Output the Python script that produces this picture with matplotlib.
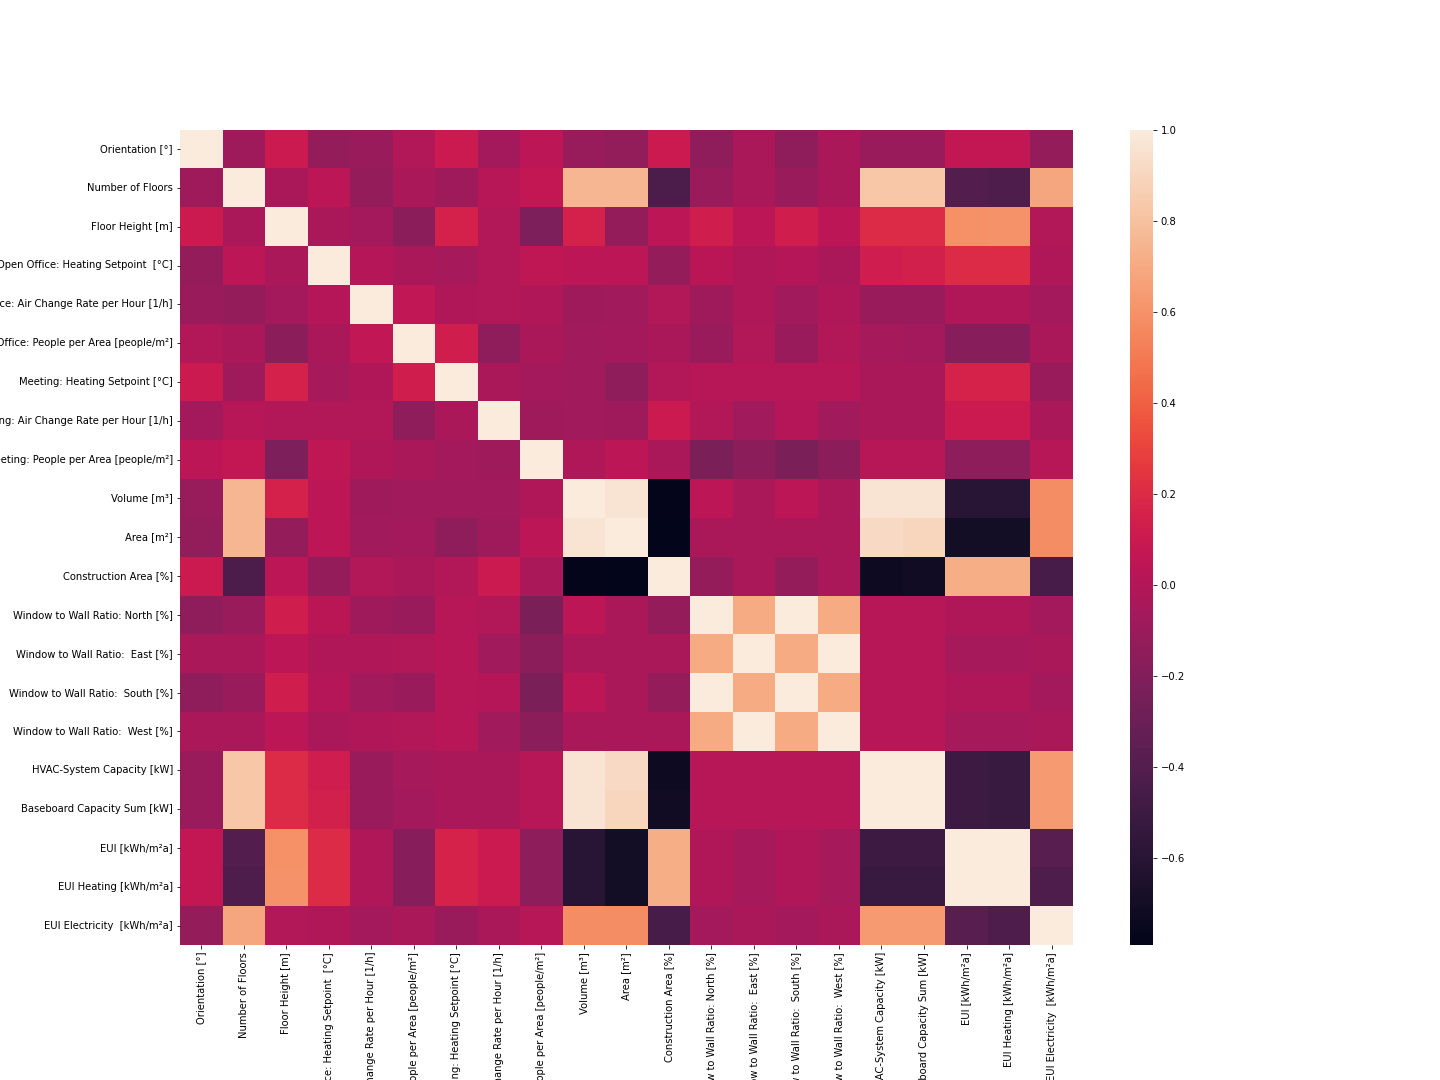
import numpy as np
import pandas as pd
import matplotlib
matplotlib.use("Agg")
import matplotlib.pyplot as plt
import seaborn as sns

labels = [
    "Orientation [°]",
    "Number of Floors",
    "Floor Height [m]",
    "Open Office: Heating Setpoint  [°C]",
    "Open Office: Air Change Rate per Hour [1/h]",
    "Open Office: People per Area [people/m²]",
    "Meeting: Heating Setpoint [°C]",
    "Meeting: Air Change Rate per Hour [1/h]",
    "Meeting: People per Area [people/m²]",
    "Volume [m³]",
    "Area [m²]",
    "Construction Area [%]",
    "Window to Wall Ratio: North [%]",
    "Window to Wall Ratio:  East [%]",
    "Window to Wall Ratio:  South [%]",
    "Window to Wall Ratio:  West [%]",
    "HVAC-System Capacity [kW]",
    "Baseboard Capacity Sum [kW]",
    "EUI [kWh/m²a]",
    "EUI Heating [kWh/m²a]",
    "EUI Electricity  [kWh/m²a]",
]

# correlation values
corr = [
    [1.00, -0.08, 0.10, -0.12, -0.10, 0.00, 0.10, -0.06, 0.04, -0.11, -0.13, 0.10, -0.14, -0.04, -0.14, -0.04, -0.10, -0.10, 0.07, 0.07, -0.12],
    [-0.08, 1.00, -0.03, 0.04, -0.12, -0.04, -0.08, 0.02, 0.07, 0.75, 0.75, -0.43, -0.10, -0.04, -0.10, -0.04, 0.83, 0.83, -0.40, -0.42, 0.68],
    [0.10, -0.03, 1.00, -0.03, -0.06, -0.16, 0.15, 0.00, -0.22, 0.15, -0.12, 0.04, 0.13, 0.04, 0.13, 0.04, 0.20, 0.20, 0.59, 0.60, 0.00],
    [-0.12, 0.04, -0.03, 1.00, 0.01, -0.04, -0.05, 0.00, 0.05, 0.04, 0.04, -0.12, 0.03, -0.02, 0.01, -0.03, 0.12, 0.14, 0.20, 0.20, -0.02],
    [-0.10, -0.12, -0.06, 0.01, 1.00, 0.06, -0.02, 0.00, -0.02, -0.08, -0.07, 0.00, -0.08, -0.02, -0.07, -0.02, -0.10, -0.10, -0.01, -0.01, -0.06],
    [0.00, -0.04, -0.16, -0.04, 0.06, 1.00, 0.13, -0.14, -0.04, -0.07, -0.06, -0.04, -0.10, 0.00, -0.10, 0.00, -0.05, -0.06, -0.18, -0.18, -0.04],
    [0.10, -0.08, 0.15, -0.05, -0.02, 0.13, 1.00, -0.04, -0.06, -0.07, -0.14, 0.00, 0.02, 0.02, 0.02, 0.02, -0.03, -0.03, 0.16, 0.16, -0.10],
    [-0.06, 0.02, 0.00, 0.00, 0.00, -0.14, -0.04, 1.00, -0.09, -0.07, -0.08, 0.10, 0.00, -0.07, 0.01, -0.07, -0.03, -0.03, 0.10, 0.10, -0.03],
    [0.04, 0.07, -0.22, 0.05, -0.02, -0.04, -0.06, -0.09, 1.00, -0.02, 0.04, -0.03, -0.23, -0.16, -0.23, -0.16, 0.02, 0.02, -0.15, -0.15, 0.02],
    [-0.11, 0.75, 0.15, 0.04, -0.08, -0.07, -0.07, -0.07, -0.02, 1.00, 0.96, -0.78, 0.04, -0.03, 0.04, -0.03, 0.96, 0.96, -0.60, -0.60, 0.58],
    [-0.13, 0.75, -0.12, 0.04, -0.07, -0.06, -0.14, -0.08, 0.04, 0.96, 1.00, -0.79, -0.03, -0.03, -0.03, -0.03, 0.91, 0.90, -0.70, -0.70, 0.58],
    [0.10, -0.43, 0.04, -0.12, 0.00, -0.04, 0.00, 0.10, -0.03, -0.78, -0.79, 1.00, -0.12, -0.04, -0.12, -0.04, -0.73, -0.71, 0.72, 0.72, -0.45],
    [-0.14, -0.10, 0.13, 0.03, -0.08, -0.10, 0.02, 0.00, -0.23, 0.04, -0.03, -0.12, 1.00, 0.70, 1.00, 0.70, 0.02, 0.02, -0.01, -0.01, -0.06],
    [-0.04, -0.04, 0.04, -0.02, -0.02, 0.00, 0.02, -0.07, -0.16, -0.03, -0.03, -0.04, 0.70, 1.00, 0.70, 1.00, 0.02, 0.02, -0.05, -0.05, -0.03],
    [-0.14, -0.10, 0.13, 0.01, -0.07, -0.10, 0.02, 0.01, -0.23, 0.04, -0.03, -0.12, 1.00, 0.70, 1.00, 0.70, 0.02, 0.02, -0.01, -0.01, -0.06],
    [-0.04, -0.04, 0.04, -0.03, -0.02, 0.00, 0.02, -0.07, -0.16, -0.03, -0.03, -0.04, 0.70, 1.00, 0.70, 1.00, 0.02, 0.02, -0.05, -0.05, -0.03],
    [-0.10, 0.83, 0.20, 0.12, -0.10, -0.05, -0.03, -0.03, 0.02, 0.96, 0.91, -0.73, 0.02, 0.02, 0.02, 0.02, 1.00, 1.00, -0.50, -0.52, 0.63],
    [-0.10, 0.83, 0.20, 0.14, -0.10, -0.06, -0.03, -0.03, 0.02, 0.96, 0.90, -0.71, 0.02, 0.02, 0.02, 0.02, 1.00, 1.00, -0.50, -0.52, 0.63],
    [0.07, -0.40, 0.59, 0.20, -0.01, -0.18, 0.16, 0.10, -0.15, -0.60, -0.70, 0.72, -0.01, -0.05, -0.01, -0.05, -0.50, -0.50, 1.00, 1.00, -0.38],
    [0.07, -0.42, 0.60, 0.20, -0.01, -0.18, 0.16, 0.10, -0.15, -0.60, -0.70, 0.72, -0.01, -0.05, -0.01, -0.05, -0.52, -0.52, 1.00, 1.00, -0.42],
    [-0.12, 0.68, 0.00, -0.02, -0.06, -0.04, -0.10, -0.03, 0.02, 0.58, 0.58, -0.45, -0.06, -0.03, -0.06, -0.03, 0.63, 0.63, -0.38, -0.42, 1.00],
]

df = pd.DataFrame(corr, index=labels, columns=labels)

fig = plt.figure(figsize=(20, 15), dpi=72)
ax = fig.add_axes([0.125, 0.125, 0.62, 0.755])
cax = fig.add_axes([0.785, 0.125, 0.016, 0.755])

sns.heatmap(df, ax=ax, cbar_ax=cax, xticklabels=True, yticklabels=True)
ax.set_xticklabels(labels, rotation=90)
ax.set_yticklabels(labels, rotation=0)

fig.savefig("out.png", dpi=72)
